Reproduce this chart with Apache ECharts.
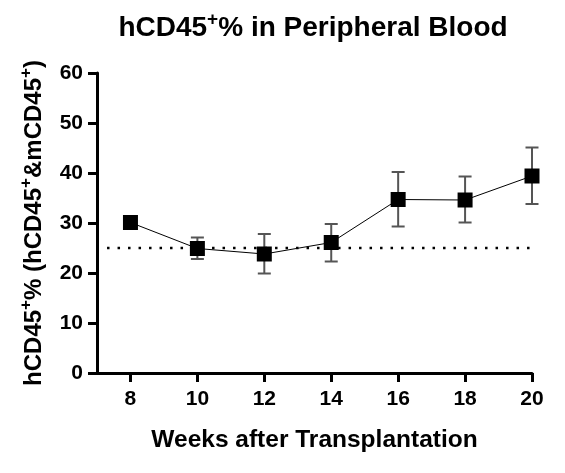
<!DOCTYPE html>
<html>
<head>
<meta charset="utf-8">
<script src="https://cdn.jsdelivr.net/npm/echarts@6/dist/echarts.min.js"></script>
<style>
html, body { margin: 0; padding: 0; background: #fff; }
#chart { width: 565px; height: 473px; }
</style>
</head>
<body>
<div id="chart"></div>
<script>
// weeks after transplantation
var weeks = [8, 10, 12, 14, 16, 18, 20];
// mean hCD45+ %
var meanValues = [30.1, 24.9, 23.8, 26.1, 34.7, 34.6, 39.4];
// error bar ends (lower / upper); week 8 has no visible bar
var errLow = [30.1, 22.8, 19.9, 22.3, 29.3, 30.1, 33.8];
var errHigh = [30.1, 27.1, 27.8, 29.8, 40.2, 39.3, 45.1];
// dotted reference line
var refLevel = 25;
var refStart = 7.3;
var refEnd = 20;
// tick labels
var xTicks = [8, 10, 12, 14, 16, 18, 20];
var yTicks = [0, 10, 20, 30, 40, 50, 60];

var chart = echarts.init(document.getElementById('chart'));

var fontFam = 'Liberation Sans, Arial, sans-serif';
// superscript "+"
var supStyle = { fontSize: 17, fontWeight: 'bold', fontFamily: fontFam, color: '#000', padding: [0, 0, 16, 0] };

var errData = [];
for (var i = 0; i < weeks.length; i++) {
	errData.push([weeks[i], errLow[i], errHigh[i]]);
}
var lineData = [];
for (var j = 0; j < weeks.length; j++) {
	lineData.push([weeks[j], meanValues[j]]);
}

var options = {
	animation: false,
	title: {
		text: 'hCD45{sup|+}% in Peripheral Blood',
		left: 308,
		textAlign: 'center',
		top: 5,
		textStyle: {
			fontSize: 28,
			fontWeight: 'bold',
			fontFamily: fontFam,
			color: '#000',
			rich: {
				sup: { fontSize: 19, fontWeight: 'bold', fontFamily: fontFam, color: '#000', padding: [0, 0, 18, 0] }
			}
		}
	},
	grid: {
		left: 97,
		right: 33,
		top: 73,
		bottom: 100
	},
	xAxis: {
		type: 'value',
		min: 7,
		max: 20,
		name: 'Weeks after Transplantation',
		nameLocation: 'middle',
		nameGap: 55,
		nameTextStyle: { fontSize: 24.5, fontWeight: 'bold', fontFamily: fontFam, color: '#000' },
		axisLine: { lineStyle: { color: '#000', width: 3 } },
		axisTick: { show: true, length: 9, lineStyle: { color: '#000', width: 3 }, customValues: xTicks },
		axisLabel: { fontSize: 21, fontWeight: 'bold', fontFamily: fontFam, color: '#000', margin: 16, customValues: xTicks },
		splitLine: { show: false }
	},
	yAxis: {
		type: 'value',
		min: 0,
		max: 60,
		interval: 10,
		name: 'hCD45{sup|+}% (hCD45{sup|+}&mCD45{sup|+})',
		nameLocation: 'middle',
		nameRotate: 90,
		nameGap: 46,
		nameTextStyle: {
			fontSize: 24, fontWeight: 'bold', fontFamily: fontFam, color: '#000',
			rich: { sup: supStyle }
		},
		axisLine: { show: true, lineStyle: { color: '#000', width: 3 } },
		axisTick: { show: true, length: 9, lineStyle: { color: '#000', width: 3 } },
		axisLabel: { fontSize: 21, fontWeight: 'bold', fontFamily: fontFam, color: '#000', margin: 14, customValues: yTicks },
		splitLine: { show: false }
	},
	series: [
		{
			name: 'ref',
			type: 'line',
			data: [[refStart, refLevel], [refEnd, refLevel]],
			symbol: 'none',
			lineStyle: { color: '#000', width: 2.5, type: [2.5, 8] },
			z: 1
		},
		{
			name: 'err',
			type: 'custom',
			data: errData,
			z: 2,
			renderItem: function(params, api) {
				var x = api.value(0);
				var lo = api.coord([x, api.value(1)]);
				var hi = api.coord([x, api.value(2)]);
				var half = 6.5;
				var style = { stroke: '#555', lineWidth: 2 };
				return {
					type: 'group',
					children: [
						{ type: 'line', shape: { x1: lo[0], y1: lo[1], x2: hi[0], y2: hi[1] }, style: style },
						{ type: 'line', shape: { x1: hi[0] - half, y1: hi[1], x2: hi[0] + half, y2: hi[1] }, style: style },
						{ type: 'line', shape: { x1: lo[0] - half, y1: lo[1], x2: lo[0] + half, y2: lo[1] }, style: style }
					]
				};
			}
		},
		{
			name: 'mean',
			type: 'line',
			data: lineData,
			symbol: 'rect',
			symbolSize: 15,
			itemStyle: { color: '#000' },
			lineStyle: { color: '#000', width: 1 },
			z: 3
		}
	]
};

chart.setOption(options);
</script>
</body>
</html>
